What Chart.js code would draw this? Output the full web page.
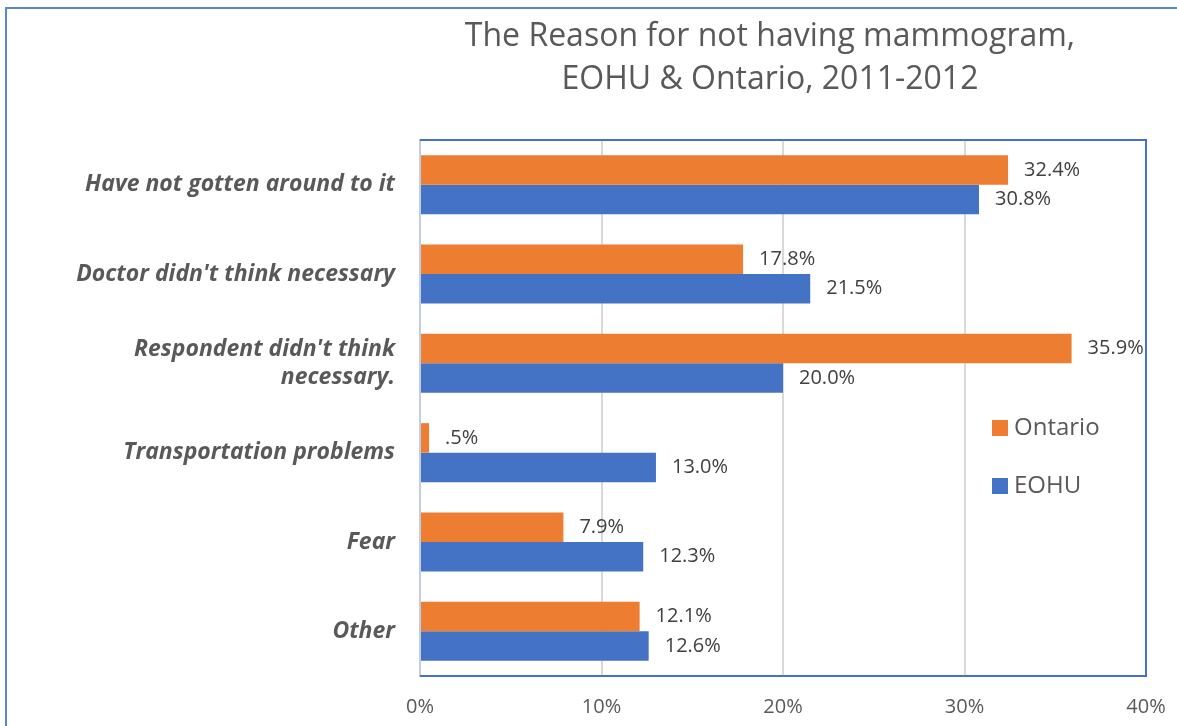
<!DOCTYPE html>
<html>
<head>
<meta charset="utf-8">
<script src="https://cdn.jsdelivr.net/npm/chart.js@4"></script>
<style>
  body { margin: 0; background: #fff; }
  #wrap { position: relative; width: 1177px; height: 726px; overflow: hidden; }
  #frame { position: absolute; left: 5px; top: 7px; width: 1300px; height: 900px; border: 2px solid #5b86d0; }
  #box { position: absolute; left: 0; top: 0; width: 1177px; height: 726px; }
</style>
</head>
<body>
<div id="wrap">
  <div id="frame"></div>
  <div id="box"><canvas id="graph"></canvas></div>
</div>
<script>
// reasons, top to bottom
const reasons = [
    "Have not gotten around to it",
    "Doctor didn't think necessary",
    ["Respondent didn't think", "necessary."],
    "Transportation problems",
    "Fear",
    "Other"
];
const ontario = [32.4, 17.8, 35.9, 0.5, 7.9, 12.1];
const eohu = [30.8, 21.5, 20.0, 13.0, 12.3, 12.6];
const xTicks = [0, 10, 20, 30, 40];
const titleLines = ["The Reason for not having mammogram,", "EOHU & Ontario, 2011-2012"];

const grey = "#595959";
const orange = "#ED7D31";
const blue = "#4472C4";

//excel style label, drops leading zero (.5%)
function fmtLabel(v) {
    let s = v.toFixed(1);
    if (s.startsWith("0.")) s = s.substring(1);
    return s + "%";
}

//title, plot border, bar values and the legend are drawn by hand
const extras = {
    id: "extras",
    afterDraw(chart) {
        const ctx = chart.ctx;
        const area = chart.chartArea;
        ctx.save();

        //plot border
        ctx.strokeStyle = blue;
        ctx.lineWidth = 2;
        ctx.beginPath();
        ctx.moveTo(area.left, area.top);
        ctx.lineTo(area.right, area.top);
        ctx.lineTo(area.right, area.bottom);
        ctx.lineTo(area.left, area.bottom);
        ctx.stroke();

        //title
        ctx.fillStyle = grey;
        ctx.font = "32px 'Open Sans'";
        ctx.textAlign = "center";
        ctx.textBaseline = "middle";
        ctx.fillText(titleLines[0], 770, 37);
        ctx.fillText(titleLines[1], 770, 80);

        //value labels
        ctx.font = "20px 'Open Sans'";
        ctx.fillStyle = "#404040";
        ctx.textAlign = "left";
        chart.data.datasets.forEach((ds, i) => {
            chart.getDatasetMeta(i).data.forEach((bar, j) => {
                ctx.fillText(fmtLabel(ds.data[j]), bar.x + 16, bar.y);
            });
        });

        //legend
        ctx.font = "24px 'Open Sans'";
        const legendY = [428, 486];
        chart.data.datasets.forEach((ds, i) => {
            ctx.fillStyle = ds.backgroundColor;
            ctx.fillRect(992, legendY[i] - 8, 16, 16);
            ctx.fillStyle = grey;
            ctx.fillText(ds.label, 1014, legendY[i]);
        });
        ctx.restore();
    }
};

const ctx = document.getElementById("graph").getContext("2d");
const chart = new Chart(ctx, {
    type: "bar",
    data: {
        labels: reasons,
        datasets: [
            { label: "Ontario", data: ontario, backgroundColor: orange },
            { label: "EOHU", data: eohu, backgroundColor: blue }
        ]
    },
    options: {
        indexAxis: "y",
        responsive: true,
        maintainAspectRatio: false,
        animation: false,
        layout: { padding: { left: 0, top: 140, right: 31, bottom: 0 } },
        datasets: { bar: { barPercentage: 1, categoryPercentage: 0.66 } },
        plugins: {
            legend: { display: false },
            title: { display: false },
            tooltip: { enabled: false }
        },
        scales: {
            x: {
                min: 0,
                max: 40,
                afterBuildTicks: (scale) => { scale.ticks = xTicks.map(v => ({ value: v })); },
                afterFit: (scale) => {
                    scale.height = 50;
                    //don't let the "40%" label push the plot in
                    scale.paddingRight = 0;
                    scale.paddingLeft = 0;
                },
                grid: { color: "#d9d9d9", lineWidth: 2, drawTicks: false },
                border: { display: false },
                ticks: {
                    padding: 19,
                    color: grey,
                    font: { family: "'Open Sans'", size: 20 },
                    callback: (v) => v + "%"
                }
            },
            y: {
                afterFit: (scale) => { scale.width = 420; },
                grid: { display: false, drawTicks: false },
                border: { color: "#c3cde0", width: 2 },
                ticks: {
                    padding: 25,
                    color: grey,
                    font: { family: "'Open Sans'", size: 23, style: "italic", weight: "bold" }
                }
            }
        }
    },
    plugins: [extras]
});
</script>
</body>
</html>
